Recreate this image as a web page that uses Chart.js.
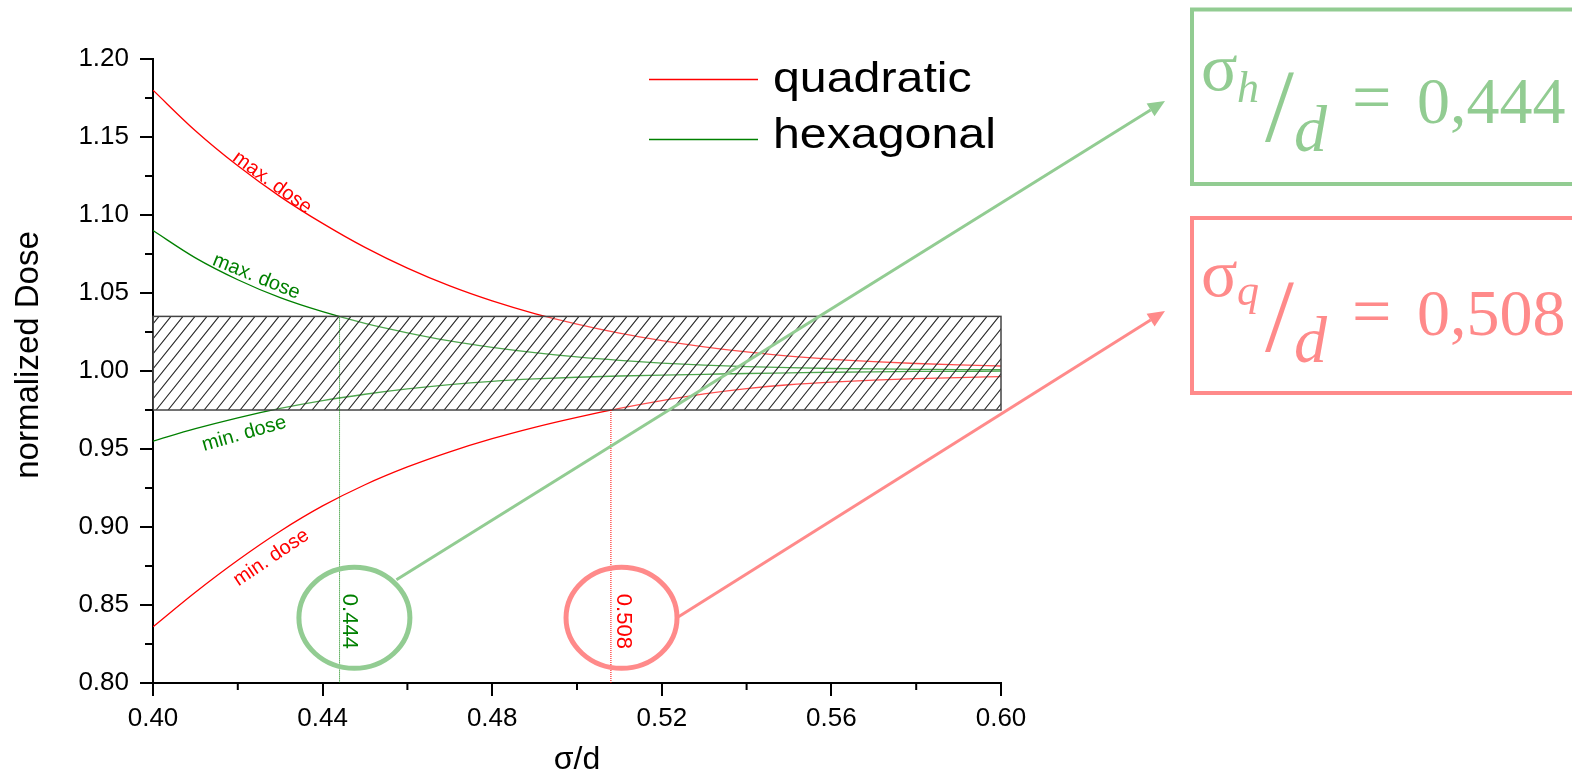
<!DOCTYPE html>
<html><head><meta charset="utf-8">
<script src="https://cdn.jsdelivr.net/npm/chart.js@4.4.1/dist/chart.umd.min.js"></script>
<style>html,body{margin:0;padding:0;background:#fff;overflow:hidden}#wrap{width:1572px;height:776px;position:relative}</style>
</head><body><div id="wrap"><canvas id="c" width="1572" height="776"></canvas></div>
<script>
// ---- data ----
const sigma   = [0.40,0.41,0.42,0.43,0.44,0.45,0.46,0.47,0.48,0.49,0.50,0.51,0.52,0.53,0.54,0.55,0.56,0.57,0.58,0.59,0.60];
const quadMax = [1.1800,1.1540,1.1315,1.1118,1.0946,1.0792,1.0659,1.0545,1.0449,1.0368,1.0301,1.0243,1.0195,1.0155,1.0122,1.0095,1.0075,1.0060,1.0048,1.0039,1.0032];
const quadMin = [0.8360,0.8582,0.8787,0.8973,0.9135,0.9271,0.9385,0.9482,0.9566,0.9639,0.9703,0.9760,0.9810,0.9853,0.9887,0.9912,0.9929,0.9942,0.9951,0.9958,0.9964];
const hexMax  = [1.0900,1.0725,1.0585,1.0470,1.0380,1.0305,1.0245,1.0193,1.0152,1.0118,1.0090,1.0068,1.0051,1.0038,1.0028,1.0021,1.0016,1.0013,1.0011,1.0009,1.0008];
const hexMin  = [0.9550,0.9630,0.9700,0.9760,0.9810,0.9851,0.9885,0.9913,0.9934,0.9949,0.9960,0.9968,0.9974,0.9979,0.9984,0.9988,0.9992,0.9995,0.9997,0.9998,0.9999];
const seriesNames = ['quadratic','hexagonal'];
const curveLabels = ['max. dose','min. dose'];
const bandLow = 0.975, bandHigh = 1.035;
const sigmaHex = 0.444, sigmaQuad = 0.508;
const markLabels = ['0.444','0.508'];
const xMinorTicks = [0.42,0.46,0.50,0.54,0.58];
const yMinorTicks = [0.825,0.875,0.925,0.975,1.025,1.075,1.125,1.175];
const xTitle = 'σ/d', yTitle = 'normalized Dose';
const boxValues = ['0,444','0,508'];
const boxSubs = ['h','q'];

const RED = '#ff0000', GREEN = '#008000';
const LGREEN = 'rgb(146,204,146)', LRED = 'rgb(255,138,138)';
const SANS = '"Liberation Sans", Arial, sans-serif';
const SERIF = '"Liberation Serif", "Times New Roman", serif';

const pts = arr => sigma.map((s,i)=>({x:s, y:arr[i]}));

function txt(ctx, s, x, y, font, color, align, base, rot, sx){
  ctx.save(); ctx.font = font; ctx.fillStyle = color;
  ctx.textAlign = align || 'left'; ctx.textBaseline = base || 'alphabetic';
  ctx.translate(x, y); if (rot) ctx.rotate(rot); if (sx) ctx.scale(sx, 1);
  ctx.fillText(s, 0, 0); ctx.restore();
}
function arrowLine(ctx, x1, y1, x2, y2, color){
  const a = Math.atan2(y2-y1, x2-x1), L = 17, W = 7.5;
  const bx = x2 - L*Math.cos(a), by = y2 - L*Math.sin(a);
  ctx.save(); ctx.strokeStyle = color; ctx.fillStyle = color; ctx.lineWidth = 3;
  ctx.beginPath(); ctx.moveTo(x1,y1); ctx.lineTo(bx,by); ctx.stroke();
  ctx.beginPath(); ctx.moveTo(x2,y2);
  ctx.lineTo(bx + W*Math.sin(a), by - W*Math.cos(a));
  ctx.lineTo(bx - W*Math.sin(a), by + W*Math.cos(a));
  ctx.closePath(); ctx.fill(); ctx.restore();
}

const annot = {
  id: 'annot',
  afterDatasetsDraw(chart){
    const {ctx, scales:{x, y}} = chart;
    const L = x.getPixelForValue(sigma[0]), R = x.getPixelForValue(sigma[sigma.length-1]);
    const T = y.getPixelForValue(bandHigh), B = y.getPixelForValue(bandLow);
    // hatched tolerance band
    ctx.save();
    ctx.fillStyle = 'rgba(255,255,255,0.3)'; ctx.fillRect(L, T, R-L, B-T);
    ctx.beginPath(); ctx.rect(L, T, R-L, B-T); ctx.clip();
    ctx.strokeStyle = '#2a2a2a'; ctx.lineWidth = 1.1;
    const dx = (B-T)/1.25;
    ctx.beginPath();
    for (let xs = L - dx - 6; xs < R + 12; xs += 12){ ctx.moveTo(xs, B); ctx.lineTo(xs+dx, T); }
    ctx.stroke(); ctx.restore();
    ctx.save(); ctx.strokeStyle = '#444'; ctx.lineWidth = 1.5; ctx.strokeRect(L, T, R-L, B-T); ctx.restore();
    // dotted marker lines
    const y0 = y.getPixelForValue(y.min);
    ctx.save(); ctx.lineWidth = 1; ctx.setLineDash([1,1]);
    ctx.strokeStyle = GREEN; ctx.beginPath();
    ctx.moveTo(x.getPixelForValue(sigmaHex), T); ctx.lineTo(x.getPixelForValue(sigmaHex), y0); ctx.stroke();
    ctx.strokeStyle = RED; ctx.beginPath();
    ctx.moveTo(x.getPixelForValue(sigmaQuad), B); ctx.lineTo(x.getPixelForValue(sigmaQuad), y0); ctx.stroke();
    ctx.restore();
    // curve labels
    const f20 = '20px ' + SANS;
    txt(ctx, curveLabels[0], x.getPixelForValue(0.4281), y.getPixelForValue(1.1207), f20, RED, 'center', 'middle', 36*Math.PI/180);
    txt(ctx, curveLabels[0], x.getPixelForValue(0.4244), y.getPixelForValue(1.0604), f20, GREEN, 'center', 'middle', 22*Math.PI/180);
    txt(ctx, curveLabels[1], x.getPixelForValue(0.4215), y.getPixelForValue(0.9598), f20, GREEN, 'center', 'middle', -16*Math.PI/180);
    txt(ctx, curveLabels[1], x.getPixelForValue(0.4279), y.getPixelForValue(0.8803), f20, RED, 'center', 'middle', -34*Math.PI/180);
    // vertical value labels
    const f22 = '22px ' + SANS;
    txt(ctx, markLabels[0], x.getPixelForValue(sigmaHex)+10, y.getPixelForValue(0.8395), f22, GREEN, 'center', 'middle', Math.PI/2);
    txt(ctx, markLabels[1], x.getPixelForValue(sigmaQuad)+12, y.getPixelForValue(0.8395), f22, RED, 'center', 'middle', Math.PI/2);
  },
  afterDraw(chart){
    const {ctx, scales:{x, y}} = chart;
    // minor ticks
    ctx.save(); ctx.strokeStyle = '#000'; ctx.lineWidth = 2; ctx.beginPath();
    const ax = y.getPixelForValue(y.min), ay = x.getPixelForValue(x.min);
    xMinorTicks.forEach(v=>{const p = x.getPixelForValue(v); ctx.moveTo(p, ax); ctx.lineTo(p, ax+7);});
    yMinorTicks.forEach(v=>{const p = y.getPixelForValue(v); ctx.moveTo(ay, p); ctx.lineTo(ay-8, p);});
    ctx.stroke(); ctx.restore();
    // y axis title
    txt(ctx, yTitle, 29, 355, '33px ' + SANS, '#000', 'center', 'middle', -Math.PI/2);
    // legend
    const legY = [79.5, 139.5], legBase = [92.3, 148.3], legCol = [RED, GREEN];
    seriesNames.forEach((n,i)=>{
      ctx.save(); ctx.strokeStyle = legCol[i]; ctx.lineWidth = 1.3;
      ctx.beginPath(); ctx.moveTo(649, legY[i]); ctx.lineTo(758, legY[i]); ctx.stroke(); ctx.restore();
      txt(ctx, n, 773, legBase[i], '42px ' + SANS, '#000', 'left', 'alphabetic', 0, 1.15);
    });
    // ellipses
    const cy = y.getPixelForValue(0.8418);
    const ell = [[x.getPixelForValue(0.4475), LGREEN], [x.getPixelForValue(0.5105), LRED]];
    ell.forEach(([cx,c])=>{
      ctx.save(); ctx.strokeStyle = c; ctx.lineWidth = 5;
      ctx.beginPath(); ctx.ellipse(cx, cy, 55.5, 50.5, 0, 0, Math.PI*2); ctx.stroke(); ctx.restore();
    });
    // connectors
    arrowLine(ctx, ell[0][0]+42, cy-38, 1165, 101, LGREEN);
    arrowLine(ctx, ell[1][0]+57, cy-1, 1165, 311, LRED);
    // result boxes
    ctx.save(); ctx.lineWidth = 4;
    ctx.strokeStyle = LGREEN; ctx.strokeRect(1192, 9.5, 500, 174.5);
    ctx.strokeStyle = LRED; ctx.strokeRect(1192, 218, 500, 175);
    ctx.restore();
    const boxes = [
      {c:LGREEN, s:90, sub:102, sl:140.5, d:151, eq:121, v:123},
      {c:LRED,   s:296, sub:305, sl:350.5, d:362, eq:335, v:335}
    ];
    boxes.forEach((b,i)=>{
      txt(ctx, 'σ', 1201, b.s, '68px ' + SERIF, b.c);
      txt(ctx, boxSubs[i], 1237, b.sub, 'italic 44px ' + SERIF, b.c);
      txt(ctx, '/', 1265, b.sl, '104px ' + SERIF, b.c);
      txt(ctx, 'd', 1294, b.d, 'italic 66px ' + SERIF, b.c);
      txt(ctx, '=', 1352, b.eq, '70px ' + SERIF, b.c);
      txt(ctx, boxValues[i], 1417, b.v, '66px ' + SERIF, b.c);
    });
  }
};

const tickFont = {family: SANS, size: 26};
new Chart(document.getElementById('c'), {
  type: 'line',
  data: {
    datasets: [
      {label: seriesNames[0]+' max', data: pts(quadMax), borderColor: RED},
      {label: seriesNames[0]+' min', data: pts(quadMin), borderColor: RED},
      {label: seriesNames[1]+' max', data: pts(hexMax), borderColor: GREEN},
      {label: seriesNames[1]+' min', data: pts(hexMin), borderColor: GREEN}
    ].map(d=>Object.assign(d, {borderWidth: 1.3, pointRadius: 0, fill: false, cubicInterpolationMode: 'monotone'}))
  },
  options: {
    responsive: false, animation: false, devicePixelRatio: 1,
    layout: {padding: {left: 0, right: 571, top: 59, bottom: 0}},
    plugins: {legend: {display: false}, tooltip: {enabled: false}},
    scales: {
      x: {
        type: 'linear', min: 0.40, max: 0.60,
        afterFit: s => { s.height = 93; },
        ticks: {stepSize: 0.04, callback: v => v.toFixed(2), font: tickFont, color: '#000', padding: 7, maxRotation: 0},
        grid: {drawOnChartArea: false, drawTicks: true, tickLength: 13, color: '#000', lineWidth: 2},
        border: {display: true, color: '#000', width: 2},
        title: {display: true, text: xTitle, color: '#000', font: {family: SANS, size: 32, lineHeight: 1}, padding: 0}
      },
      y: {
        min: 0.80, max: 1.20,
        afterFit: s => { s.width = 153; },
        ticks: {stepSize: 0.05, callback: v => v.toFixed(2), font: tickFont, color: '#000', padding: 11},
        grid: {drawOnChartArea: false, drawTicks: true, tickLength: 13, color: '#000', lineWidth: 2},
        border: {display: true, color: '#000', width: 2}
      }
    }
  },
  plugins: [annot]
});
</script></body></html>
